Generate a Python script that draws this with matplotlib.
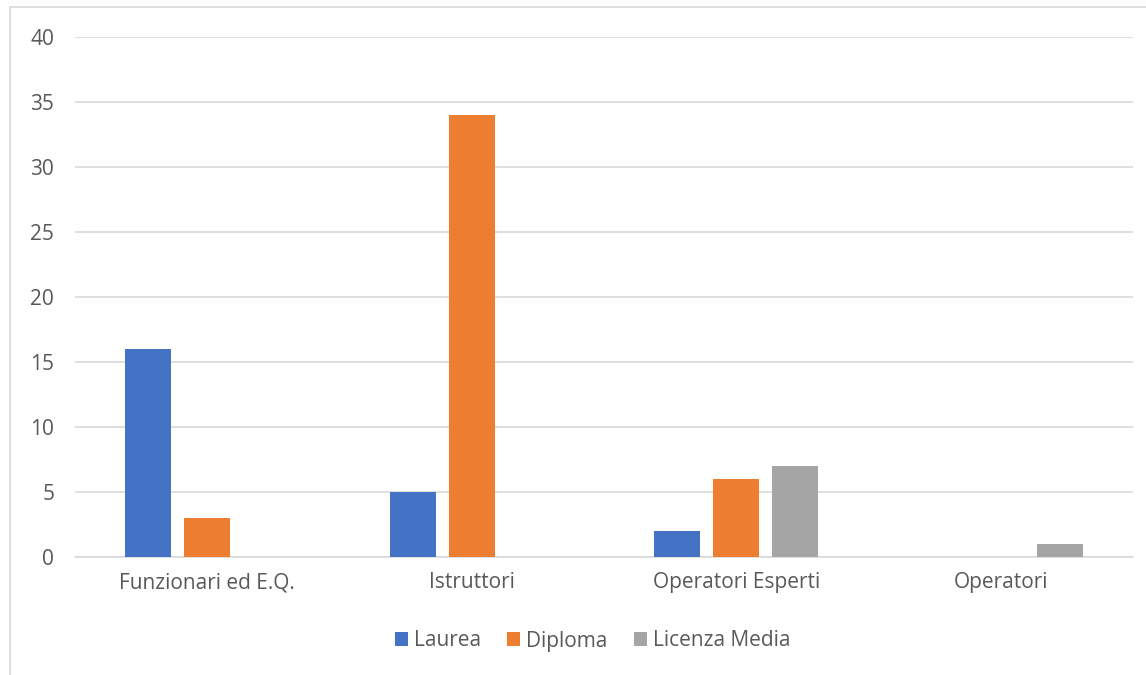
import numpy as np
import matplotlib.pyplot as plt
from matplotlib.patches import Rectangle

categories = ['Funzionari ed E.Q.', 'Istruttori', 'Operatori Esperti', 'Operatori']
laurea = [16, 5, 2, 0]
diploma = [3, 34, 6, 0]
licenza_media = [0, 0, 7, 1]

series = [('Laurea', laurea, '#4472C4'),
          ('Diploma', diploma, '#ED7D31'),
          ('Licenza Media', licenza_media, '#A5A5A5')]

plt.rcParams['font.family'] = ['Open Sans', 'DejaVu Sans']
txt = '#595959'

fig = plt.figure(figsize=(11.46, 6.75), dpi=100)
ax = fig.add_axes([75 / 1146, 1 - 557 / 675, (1133 - 75) / 1146, (557 - 37) / 675])

# chart border (cut off on the right and bottom like the original)
fig.patches.append(Rectangle((10 / 1146, -0.1), 1.2, 1 - 7 / 675 + 0.1,
                             transform=fig.transFigure, fill=False,
                             edgecolor='#D9D9D9', linewidth=1.2))

x = np.arange(len(categories))
w = 46 / 264.5
step = 59 / 264.5
for i, (name, vals, col) in enumerate(series):
    ax.bar(x + (i - 1) * step, vals, width=w, color=col, label=name, zorder=3)

ax.set_xlim(-0.5, len(categories) - 0.5)
ax.set_ylim(0, 40)
ax.set_yticks(range(0, 41, 5))
ax.yaxis.grid(True, color='#D9D9D9', linewidth=1.2, zorder=0)
ax.set_xticks(x)
ax.set_xticklabels(categories)
for s in ['top', 'right', 'left']:
    ax.spines[s].set_visible(False)
ax.spines['bottom'].set_color('#D9D9D9')
ax.spines['bottom'].set_linewidth(1.2)
ax.tick_params(axis='both', length=0, labelsize=15, colors=txt)
ax.tick_params(axis='y', pad=15)
ax.tick_params(axis='x', pad=11)

fig.legend(loc='center', bbox_to_anchor=(0.517, 1 - 641 / 675), ncol=3,
           frameon=False, fontsize=15, labelcolor=txt, handlelength=0.62,
           handleheight=0.62, handletextpad=0.3, columnspacing=1.25)

fig.savefig('out.png', dpi=100)
